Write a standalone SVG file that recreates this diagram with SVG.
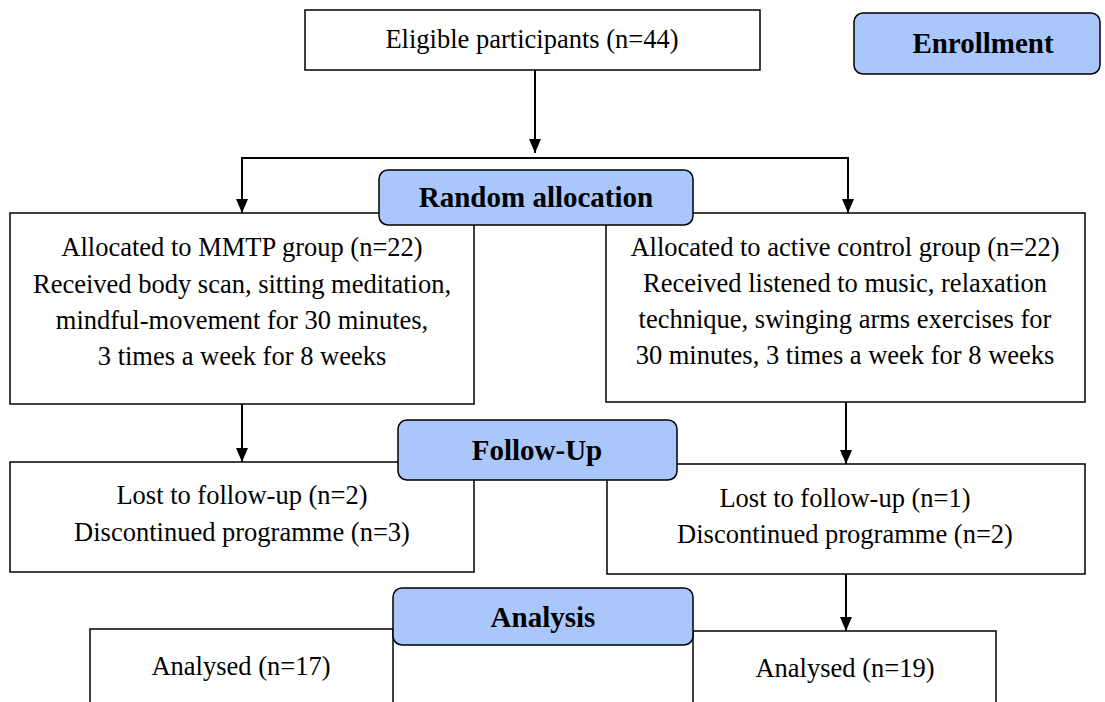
<svg xmlns="http://www.w3.org/2000/svg" width="1105" height="702" viewBox="0 0 1105 702">
<style>
.box{fill:#fff;stroke:#000;stroke-width:1.5}
.lab{fill:#a9c7fb;stroke:#000;stroke-width:1.5}
.t{font-family:"Liberation Serif","Times New Roman",serif;font-size:26.5px;fill:#000;text-anchor:middle}
.b{font-family:"Liberation Serif","Times New Roman",serif;font-size:29px;font-weight:bold;fill:#000;text-anchor:middle}
.c{fill:none;stroke:#000;stroke-width:2}
</style>
<defs>
<marker id="a" viewBox="0 0 14 12" refX="14" refY="6" markerWidth="14" markerHeight="12" markerUnits="userSpaceOnUse" orient="auto">
<path d="M0,0 L14,6 L0,12 z" fill="#000"/>
</marker>
</defs>
<rect width="1105" height="702" fill="#fff"/>
<g id="connectors">
<path class="c" d="M535,70 V153" marker-end="url(#a)"/>
<path class="c" d="M242,213 V158 H848 V213" />
<path class="c" d="M242,158 V213" marker-end="url(#a)"/>
<path class="c" d="M848,158 V213" marker-end="url(#a)"/>
<path class="c" d="M242,404 V462" marker-end="url(#a)"/>
<path class="c" d="M846,402 V464" marker-end="url(#a)"/>
<path class="c" d="M846,574 V631" marker-end="url(#a)"/>
</g>
<g id="eligible"><rect class="box" x="305" y="10" width="455" height="60"/><text class="t" x="532" y="48">Eligible participants (n=44)</text></g>
<g id="enrollment"><rect class="lab" x="854" y="13" width="246" height="61" rx="9"/><text class="b" x="983" y="53">Enrollment</text></g>
<g id="alloc-left"><rect class="box" x="10" y="213" width="464" height="191"/>
<text class="t" x="242" y="256">Allocated to MMTP group (n=22)</text>
<text class="t" x="242" y="293">Received body scan, sitting meditation,</text>
<text class="t" x="242" y="329">mindful-movement for 30 minutes,</text>
<text class="t" x="242" y="365">3 times a week for 8 weeks</text></g>
<g id="alloc-right"><rect class="box" x="606" y="213" width="479" height="189"/>
<text class="t" x="845" y="256">Allocated to active control group (n=22)</text>
<text class="t" x="845" y="292">Received listened to music, relaxation</text>
<text class="t" x="845" y="328">technique, swinging arms exercises for</text>
<text class="t" x="845" y="364">30 minutes, 3 times a week for 8 weeks</text></g>
<g id="random"><rect class="lab" x="379" y="170" width="314" height="55" rx="9"/><text class="b" x="536" y="207">Random allocation</text></g>
<g id="fu-left"><rect class="box" x="10" y="462" width="464" height="110"/>
<text class="t" x="242" y="504">Lost to follow-up (n=2)</text>
<text class="t" x="242" y="541">Discontinued programme (n=3)</text></g>
<g id="fu-right"><rect class="box" x="607" y="464" width="478" height="110"/>
<text class="t" x="845" y="507">Lost to follow-up (n=1)</text>
<text class="t" x="845" y="543">Discontinued programme (n=2)</text></g>
<g id="followup"><rect class="lab" x="398" y="420" width="279" height="60" rx="9"/><text class="b" x="537" y="460">Follow-Up</text></g>
<g id="an-left"><rect class="box" x="90" y="629" width="303" height="90"/>
<text class="t" x="241" y="675">Analysed (n=17)</text></g>
<g id="an-right"><rect class="box" x="693" y="631" width="303" height="90"/>
<text class="t" x="845" y="677">Analysed (n=19)</text></g>
<g id="analysis"><rect class="lab" x="393" y="588" width="300" height="57" rx="9"/><text class="b" x="543" y="627">Analysis</text></g>
</svg>
